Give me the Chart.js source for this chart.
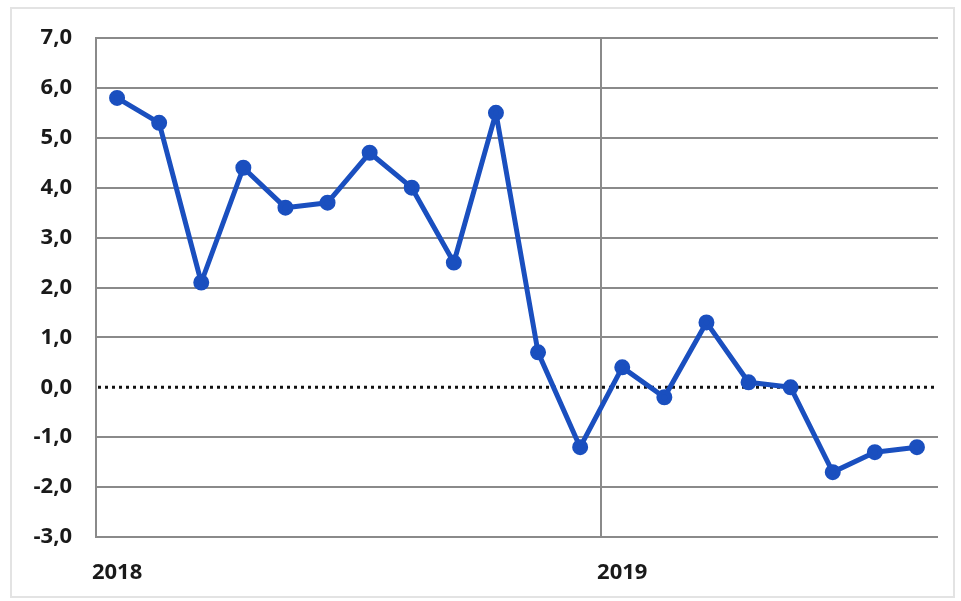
<!DOCTYPE html>
<html>
<head>
<meta charset="utf-8">
<script src="https://cdn.jsdelivr.net/npm/chart.js@4/dist/chart.umd.min.js"></script>
<style>
  body { margin: 0; background: #fff; }
  #box {
    position: absolute; left: 10px; top: 7px;
    width: 941px; height: 587px;
    border: 2px solid #e3e3e3;
  }
</style>
</head>
<body>
<div id="box"><canvas id="chart"></canvas></div>
<script>
// monthly values, jan 2018 .. aug 2019
const months = ["2018", "", "", "", "", "", "", "", "", "", "", "",
                "2019", "", "", "", "", "", "", ""];
const values = [5.8, 5.3, 2.1, 4.4, 3.6, 3.7, 4.7, 4.0, 2.5, 5.5, 0.7, -1.2,
                0.4, -0.2, 1.3, 0.1, 0.0, -1.7, -1.3, -1.2];
const yMin = -3, yMax = 7, yStep = 1;
const yearBreak = 12; // grid line before jan 2019

const blue = "#1a4fbf";
const gray = "#8a8a8a";
const font = { family: "'Open Sans', sans-serif", size: 22, weight: "bold" };

// dotted line at zero
const zeroLine = {
  id: "zeroLine",
  beforeDatasetsDraw(chart) {
    const { ctx, chartArea, scales } = chart;
    const y = scales.y.getPixelForValue(0);
    ctx.save();
    ctx.strokeStyle = "#111";
    ctx.lineWidth = 3;
    ctx.setLineDash([3, 4]);
    ctx.beginPath();
    ctx.moveTo(chartArea.left + 2, y);
    ctx.lineTo(chartArea.right, y);
    ctx.stroke();
    ctx.restore();
  }
};

new Chart("chart", {
  type: "line",
  data: {
    labels: months,
    datasets: [{
      data: values,
      borderColor: blue,
      backgroundColor: blue,
      borderWidth: 5,
      borderJoinStyle: "round",
      pointRadius: 5.5,
      pointHoverRadius: 5.5,
      tension: 0
    }]
  },
  options: {
    responsive: true,
    maintainAspectRatio: false,
    animation: false,
    layout: { autoPadding: false, padding: { top: 29, right: 15, left: 0, bottom: 0 } },
    plugins: { legend: { display: false }, tooltip: { enabled: false } },
    scales: {
      x: {
        offset: true,
        afterFit: (s) => { s.height = 59; },
        grid: {
          offset: true,
          drawTicks: false,
          lineWidth: 2,
          color: (c) => c.index === yearBreak ? gray : "rgba(0,0,0,0)"
        },
        border: { display: false },
        ticks: {
          autoSkip: false, maxRotation: 0, padding: 23,
          color: "#1a1a1a", font: font
        }
      },
      y: {
        min: yMin,
        max: yMax,
        afterFit: (s) => { s.width = 84; s.paddingTop = 0; s.paddingBottom = 0; },
        grid: {
          drawTicks: false,
          lineWidth: 2,
          color: (c) => c.tick && c.tick.value === 0 ? "rgba(0,0,0,0)" : gray
        },
        border: { display: true, color: gray, width: 2 },
        ticks: {
          stepSize: yStep,
          padding: 24,
          color: "#1a1a1a",
          font: font,
          callback: (v) => v.toFixed(1).replace(".", ",")
        }
      }
    }
  },
  plugins: [zeroLine]
});
</script>
</body>
</html>
